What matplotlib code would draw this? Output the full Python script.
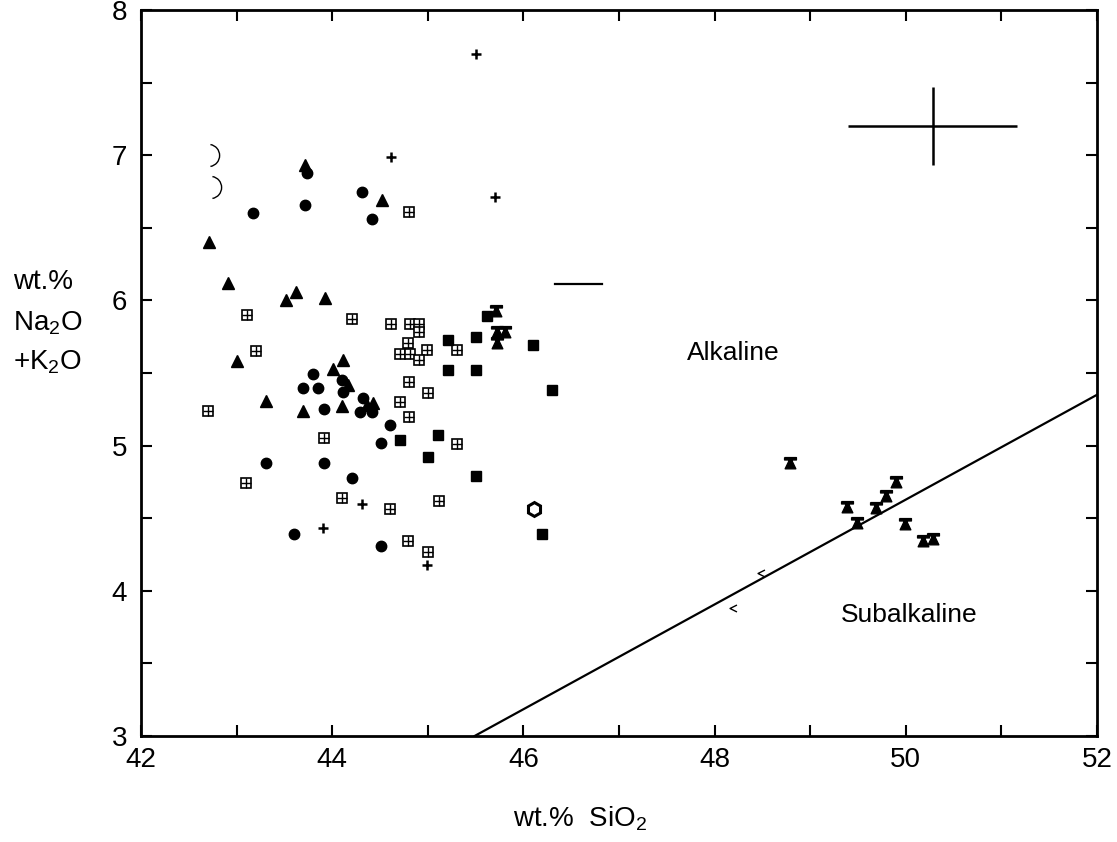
import numpy as np
import matplotlib.pyplot as plt
from matplotlib.path import Path
from matplotlib.ticker import MultipleLocator

plt.rcParams["font.family"] = ["Liberation Sans", "DejaVu Sans"]
plt.rcParams["mathtext.fontset"] = "custom"
plt.rcParams["mathtext.rm"] = "Liberation Sans"
plt.rcParams["mathtext.it"] = "Liberation Sans:italic"

# --- data (wt.% SiO2, wt.% Na2O+K2O) ---
circle_x = [44.31, 43.72, 44.42, 43.17, 43.74, 43.69, 43.80, 43.85, 44.10, 44.11,
            43.91, 44.32, 44.29, 44.42, 44.61, 44.51, 43.31, 43.91, 44.21, 43.60, 44.51]
circle_y = [6.75, 6.66, 6.56, 6.60, 6.88, 5.40, 5.49, 5.40, 5.45, 5.37,
            5.25, 5.33, 5.23, 5.23, 5.14, 5.02, 4.88, 4.88, 4.78, 4.39, 4.31]

tri_x = [44.52, 42.71, 42.91, 43.62, 43.52, 43.92, 43.00, 43.31, 43.69, 44.10,
         44.01, 44.11, 44.17, 44.43, 44.36, 43.72]
tri_y = [6.69, 6.40, 6.12, 6.06, 6.00, 6.02, 5.58, 5.31, 5.24, 5.27,
         5.53, 5.59, 5.42, 5.29, 5.28, 6.93]

boxcross_x = [44.80, 43.11, 44.21, 44.62, 44.81, 44.91, 44.91, 43.20, 44.79, 44.71,
              44.81, 44.99, 44.91, 45.31, 44.80, 45.00, 44.71, 44.80, 42.70, 43.91,
              45.31, 43.10, 44.10, 44.61, 45.12, 44.79, 45.00]
boxcross_y = [6.61, 5.90, 5.87, 5.84, 5.84, 5.84, 5.78, 5.65, 5.71, 5.63,
              5.63, 5.66, 5.59, 5.66, 5.44, 5.36, 5.30, 5.20, 5.24, 5.05,
              5.01, 4.74, 4.64, 4.56, 4.62, 4.34, 4.27]

square_x = [45.21, 45.50, 45.62, 46.10, 45.21, 45.50, 46.30, 44.71, 45.11, 45.00, 45.50, 46.19]
square_y = [5.73, 5.75, 5.89, 5.69, 5.52, 5.52, 5.38, 5.04, 5.07, 4.92, 4.79, 4.39]

bell_x = [45.71, 45.72, 45.81, 45.72, 48.79, 49.90, 49.79, 49.39, 49.69, 49.49, 49.99, 50.18, 50.28]
bell_y = [5.93, 5.78, 5.78, 5.71, 4.88, 4.75, 4.65, 4.58, 4.57, 4.47, 4.46, 4.34, 4.36]

plus_x = [45.50, 44.62, 45.70, 44.31, 43.90, 44.99]
plus_y = [7.70, 6.99, 6.71, 4.60, 4.43, 4.18]

hex_x = [46.11]
hex_y = [4.56]

arc_x = [42.70, 42.72]
arc_y = [7.00, 6.78]

chev_x = [48.49, 48.19]
chev_y = [4.12, 3.88]

# alkaline / subalkaline dividing line
div_x = [45.49, 52.0]
div_y = [3.0, 5.35]

# short dash in the field
dash_x = [46.33, 46.82]
dash_y = [6.11, 6.11]

# error cross (2 sigma)
err_x, err_y = 50.28, 7.20
err_dx, err_dy = 0.88, 0.27

# --- custom markers ---
bell = Path([(-1, 1), (1, 1), (1, 0.6), (0.3, 0.6), (0.3, 0.35), (0.9, -0.9),
             (-0.9, -0.9), (-0.3, 0.35), (-0.3, 0.6), (-1, 0.6), (-1, 1)])
arc = Path.arc(-80, 80)
chev = Path([(0.7, 0.7), (-0.7, 0), (0.7, -0.7)], [Path.MOVETO, Path.LINETO, Path.LINETO])

fig = plt.figure(figsize=(11.17, 8.42), dpi=100)
ax = fig.add_axes([0.1262, 0.1259, 0.8559, 0.8622])

ax.plot(div_x, div_y, color="black", lw=1.6)
ax.plot(dash_x, dash_y, color="black", lw=1.6)
ax.errorbar(err_x, err_y, xerr=err_dx, yerr=err_dy, fmt="none", ecolor="black",
            elinewidth=1.8, capsize=0)

ms = 7.5
ax.plot(circle_x, circle_y, "o", color="black", ms=ms, ls="none")
ax.plot(tri_x, tri_y, "^", color="black", ms=ms + 0.5, ls="none")
ax.plot(boxcross_x, boxcross_y, "s", mfc="white", mec="black", mew=1.2, ms=6.5, ls="none")
ax.plot(boxcross_x, boxcross_y, "+", color="black", mew=1.0, ms=6.5, ls="none")
ax.plot(square_x, square_y, "s", color="black", ms=6.5, ls="none")
ax.plot(bell_x, bell_y, marker=bell, color="black", ms=8.5, ls="none")
ax.plot(plus_x, plus_y, "+", color="black", mew=1.8, ms=7, ls="none")
ax.plot(hex_x, hex_y, "h", mfc="none", mec="black", mew=2.2, ms=10, ls="none")
ax.plot(arc_x, arc_y, marker=arc, mfc="none", mec="black", mew=1.0, ms=16, ls="none")
ax.plot(chev_x, chev_y, marker=chev, mfc="none", mec="black", mew=1.0, ms=5, ls="none")

ax.text(48.2, 5.64, "Alkaline", fontsize=19, ha="center", va="center")
ax.text(50.04, 3.83, "Subalkaline", fontsize=19, ha="center", va="center")

ax.set_xlim(42, 52)
ax.set_ylim(3, 8)
ax.xaxis.set_major_locator(MultipleLocator(2))
ax.xaxis.set_minor_locator(MultipleLocator(1))
ax.yaxis.set_major_locator(MultipleLocator(1))
ax.yaxis.set_minor_locator(MultipleLocator(0.5))
ax.tick_params(which="both", direction="in", top=True, right=True, length=8, width=1.5)
ax.tick_params(axis="x", labelsize=20, pad=8)
ax.tick_params(axis="y", labelsize=20, pad=10)
for s in ax.spines.values():
    s.set_linewidth(2)

fig.text(0.012, 0.657, "wt.%", fontsize=20)
fig.text(0.012, 0.608, "Na$_2$O", fontsize=20)
fig.text(0.012, 0.561, "+K$_2$O", fontsize=20)
fig.text(0.459, 0.018, "wt.%  SiO$_2$", fontsize=20)

fig.savefig("out.png", dpi=100)
